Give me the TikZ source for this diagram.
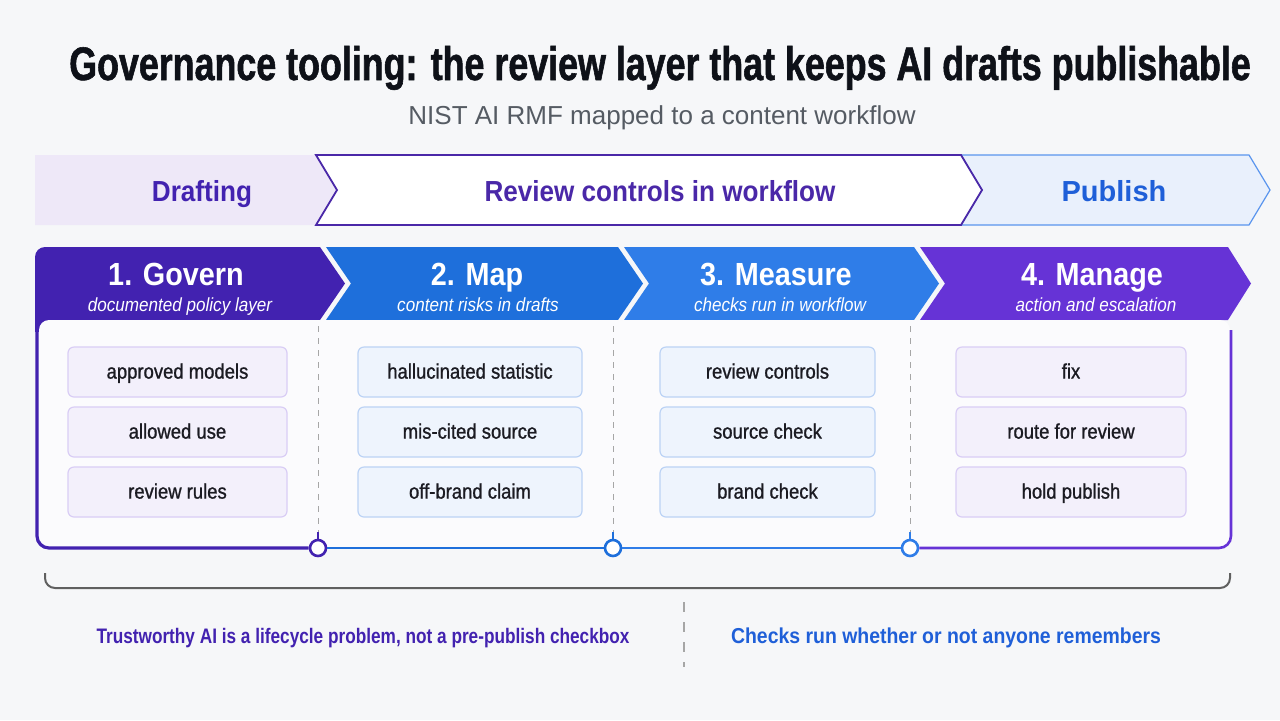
\documentclass[tikz,border=0pt]{standalone}
\usepackage{fontspec}
\setmainfont{Liberation Sans}
\newfontfamily\titlefont[FakeStretch=0.762,FakeBold=1.2]{Liberation Sans}
\newfontfamily\condfont[FakeStretch=0.9]{Liberation Sans}
\newfontfamily\narrowfont[FakeStretch=0.82]{Liberation Sans}
\newfontfamily\boxfont[FakeStretch=0.88,FakeBold=1]{Liberation Sans}

\definecolor{bgcol}{HTML}{F6F7F9}
\definecolor{panelfill}{HTML}{FBFBFD}
\definecolor{titleink}{HTML}{0E1118}
\definecolor{subgray}{HTML}{555B63}
\definecolor{ink}{HTML}{1B1B22}
\definecolor{govern}{HTML}{4222B0}
\definecolor{mapblue}{HTML}{1E6FDB}
\definecolor{measureblue}{HTML}{2F7DE8}
\definecolor{manage}{HTML}{6633D6}
\definecolor{draftfill}{HTML}{EEE8F8}
\definecolor{reviewline}{HTML}{4A28A8}
\definecolor{pubfill}{HTML}{E9F0FC}
\definecolor{publine}{HTML}{5A95EE}
\definecolor{pubtext}{HTML}{1F5FD8}
\definecolor{lavfill}{HTML}{F3F0FB}
\definecolor{lavline}{HTML}{D9CDF5}
\definecolor{bluefill}{HTML}{EEF4FD}
\definecolor{blueline}{HTML}{BCD3F5}

\begin{document}
\begin{tikzpicture}[x=0.5pt,y=-0.5pt,
    riskbox/.style={draw, rounded corners=3pt, line width=0.6pt, minimum height=25pt,
        text height=1.6ex, text depth=0.35ex, text=ink, font=\boxfont\fontsize{10.5}{12}\selectfont},
    lavbox/.style={riskbox, fill=lavfill, draw=lavline},
    bluebox/.style={riskbox, fill=bluefill, draw=blueline},
    headtitle/.style={anchor=base, text=white, font=\condfont\bfseries\fontsize{16}{18}\selectfont},
    headsub/.style={anchor=base, text=white, font=\condfont\itshape\fontsize{9.5}{11}\selectfont},
    bandtext/.style={anchor=base, font=\condfont\bfseries\fontsize{14.5}{16}\selectfont},
    knot/.style={circle, draw=#1, fill=white, line width=1.3pt, minimum size=8pt, inner sep=0pt},
    sepline/.style={gray!70, line width=0.5pt, dash pattern=on 3pt off 3pt},
    takeaway/.style={anchor=base, font=\condfont\bfseries\fontsize{10.5}{12}\selectfont}
]
    \fill[bgcol] (0,0) rectangle (1280,720);
    \useasboundingbox (0,0) rectangle (1280,720);

    % title
    \node[anchor=base, text=titleink, font=\titlefont\bfseries\fontsize{23.5}{28}\selectfont] (title) at (660,80)
        {Governance tooling: the review layer that keeps AI drafts publishable};
    \node[anchor=base, text=subgray, font=\fontsize{13}{15}\selectfont] (subtitle) at (662,124)
        {NIST AI RMF mapped to a content workflow};

    % stage band
    \fill[draftfill] (35,155) -- (316,155) -- (337,190) -- (316,225) -- (35,225) -- cycle;
    \filldraw[fill=pubfill, draw=publine, line width=0.6pt]
        (961,155) -- (1249,155) -- (1270,190) -- (1249,225) -- (961,225) -- (982,190) -- cycle;
    \filldraw[fill=white, draw=reviewline, line width=0.9pt]
        (316,155) -- (961,155) -- (982,190) -- (961,225) -- (316,225) -- (337,190) -- cycle;
    \node[bandtext, text=govern] (drafting) at (202,201) {Drafting};
    \node[bandtext, text=reviewline] (review) at (660,201) {Review controls in workflow};
    \node[bandtext, text=pubtext, font=\bfseries\fontsize{14.5}{16}\selectfont] (publish) at (1114,201) {Publish};

    % phase headers
    \fill[govern] (35,320) [rounded corners=5pt] -- (35,247) [sharp corners] -- (320,247) -- (345,283.5) -- (320,320) -- cycle;
    \fill[mapblue] (326,247) -- (618,247) -- (643,283.5) -- (618,320) -- (326,320) -- (351,283.5) -- cycle;
    \fill[measureblue] (624,247) -- (914,247) -- (939,283.5) -- (914,320) -- (624,320) -- (649,283.5) -- cycle;
    \fill[manage] (920,247) -- (1228,247) -- (1251,283.5) -- (1228,320) -- (920,320) -- (945,283.5) -- cycle;

    \node[headtitle] (govT) at (176,285) {1. Govern};
    \node[headsub] (govS) at (180,311) {documented policy layer};
    \node[headtitle] (mapT) at (477,285) {2. Map};
    \node[headsub] (mapS) at (478,311) {content risks in drafts};
    \node[headtitle] (meaT) at (776,285) {3. Measure};
    \node[headsub] (meaS) at (780,311) {checks run in workflow};
    \node[headtitle] (manT) at (1092,285) {4. Manage};
    \node[headsub] (manS) at (1096,311) {action and escalation};

    % panel
    \fill[govern] (35,318) rectangle (50,332);
    \fill[panelfill, rounded corners=5pt] (39,320) rectangle (1230,547);

    \node[knot=govern] (k1) at (318,548) {};
    \node[knot=mapblue] (k2) at (613,548) {};
    \node[knot=measureblue] (k3) at (910,548) {};

    \draw[govern, line width=1.6pt, rounded corners=6pt] (37,318) -- (37,548) -- (k1.west);
    \draw[mapblue, line width=1.3pt] (k1.east) -- (k2.west);
    \draw[measureblue, line width=1.3pt] (k2.east) -- (k3.west);
    \draw[manage, line width=1.3pt, rounded corners=6pt] (k3.east) -- (1231,548) -- (1231,330);

    \draw[sepline] (318,326) -- (318,532);
    \draw[sepline] (613,326) -- (613,532);
    \draw[sepline] (910,326) -- (910,532);
    \draw[govern, line width=0.9pt] (318,532) -- (k1.north);
    \draw[mapblue, line width=0.9pt] (613,532) -- (k2.north);
    \draw[measureblue, line width=0.9pt] (910,532) -- (k3.north);

    % risk items
    \foreach \t [count=\i] in {approved models, allowed use, review rules}
        \node[lavbox, minimum width=109.5pt] (gov\i) at (177.5,312+60*\i) {\t};
    \foreach \t [count=\i] in {hallucinated statistic, mis-cited source, off-brand claim}
        \node[bluebox, minimum width=112pt] (map\i) at (470,312+60*\i) {\t};
    \foreach \t [count=\i] in {review controls, source check, brand check}
        \node[bluebox, minimum width=107.5pt] (mea\i) at (767.5,312+60*\i) {\t};
    \foreach \t [count=\i] in {fix, route for review, hold publish}
        \node[lavbox, minimum width=115pt] (man\i) at (1071,312+60*\i) {\t};

    % bracket and takeaways
    \draw[gray!75!black, line width=1pt, rounded corners=5pt] (45,573) -- (45,588) -- (1230,588) -- (1230,573);
    \draw[gray!70, line width=0.6pt, dash pattern=on 5pt off 5pt] (684,602) -- (684,667);
    \node[takeaway, text=govern, font=\narrowfont\bfseries\fontsize{10.5}{12}\selectfont] (lifecycle) at (363,643)
        {Trustworthy AI is a lifecycle problem, not a pre-publish checkbox};
    \node[takeaway, text=pubtext, font=\condfont\bfseries\fontsize{10.8}{12}\selectfont] (remember) at (946,643)
        {Checks run whether or not anyone remembers};
\end{tikzpicture}
\end{document}
